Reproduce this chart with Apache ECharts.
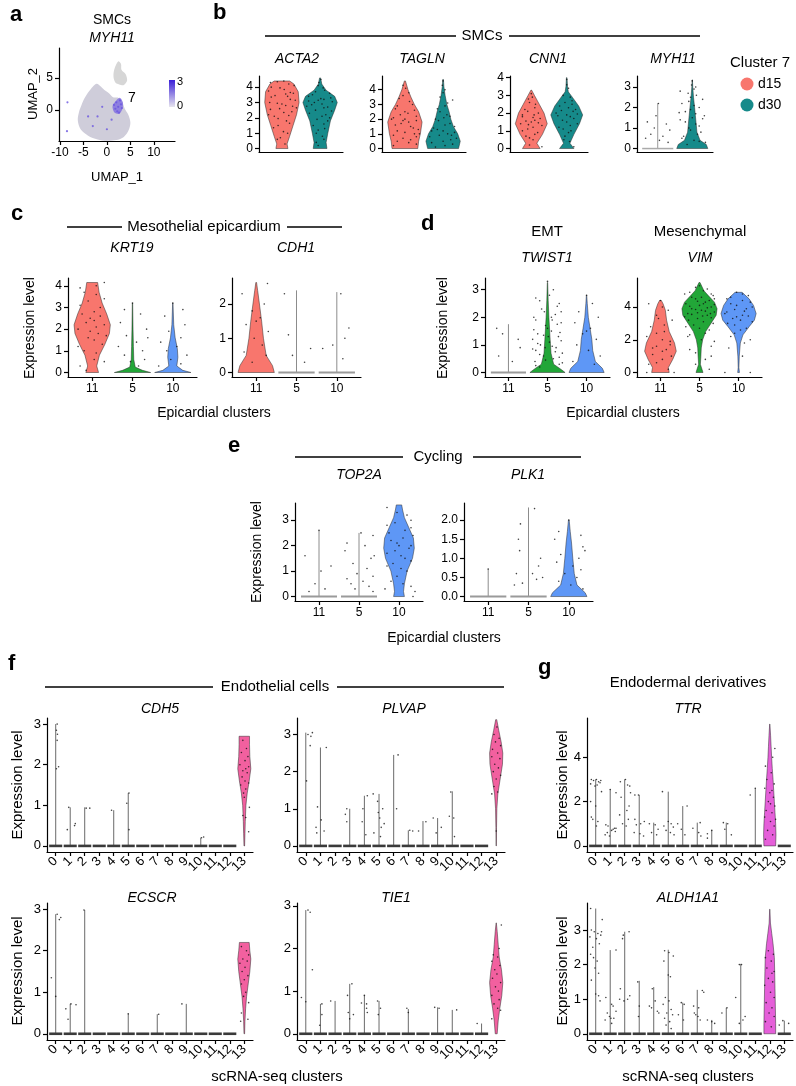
<!DOCTYPE html>
<html><head><meta charset="utf-8">
<script src="https://cdn.jsdelivr.net/npm/echarts@6/dist/echarts.min.js"></script>
<style>html,body{margin:0;padding:0;background:#fff}#c{width:796px;height:1086px}</style>
</head><body><div id="c"></div>
<script>
// ---------------- DATA ----------------
// Panel a: UMAP outlines (UMAP units)
const umapMain = [[-4.8,1.8],[-3.5,3.2],[-2.2,4.1],[-1.2,3.6],[-0.3,3.0],[0.5,2.6],[1.3,2.0],[2.5,1.9],[3.3,1.2],[3.8,0.2],[4.6,-0.8],[5.0,-2.0],[4.6,-3.2],[3.6,-4.2],[2.0,-4.7],[0,-4.8],[-2.0,-4.6],[-4.0,-4.0],[-5.6,-3.0],[-6.2,-1.6],[-5.9,-0.2],[-5.4,0.8]];
const umapTop = [[1.4,5.2],[1.6,6.4],[2.4,7.6],[3.0,7.2],[3.1,6.3],[4.0,5.6],[4.3,4.6],[3.6,3.9],[2.6,4.0],[1.8,4.3]];
const umapHot = [[1.2,0.6],[2.0,1.5],[2.8,1.9],[3.4,1.2],[3.3,0.2],[2.6,-0.6],[1.6,-0.4]];
const umapHighCells = [[1.5,0.8],[2.0,1.2],[2.4,0.5],[2.8,1.5],[3.0,0.9],[2.2,-0.2],[1.8,0.2],[2.6,-0.4],[3.2,0.3],[-2,-1],[-3,-2.5],[0,-3],[1,-1.5],[-4,-1],[-1,0.5],[-8.4,1.2],[-8.5,-3.3]];
const umapXTicks = [-10,-5,0,5,10];
const umapYTicks = [0,5];

// Panel b: SMCs, cluster 7 by day
const smcGroups = ['d15','d30'];
const ACTA2_shape = [
  [[0,0.35],[0.3,0.3],[0.8,0.45],[1.5,0.65],[2.2,0.85],[3,1.0],[3.7,0.95],[4.2,0.7],[4.4,0.45]],
  [[0,0.4],[0.4,0.35],[1,0.45],[1.8,0.6],[2.5,0.85],[3,1.0],[3.4,0.85],[3.8,0.35],[4.2,0.1],[4.6,0.03]]];
const TAGLN_shape = [
  [[0,0.75],[0.5,0.8],[1,0.9],[1.8,1.0],[2.5,0.8],[3,0.55],[3.5,0.35],[4,0.18],[4.6,0.03]],
  [[0,0.9],[0.5,1.0],[1,0.85],[1.5,0.6],[2,0.45],[2.5,0.35],[3,0.22],[3.6,0.12],[4.2,0.05],[4.7,0.02]]];
const CNN1_shape = [
  [[0,0.55],[0.3,0.35],[0.8,0.7],[1.4,1.0],[2,0.8],[2.5,0.5],[3,0.2],[3.3,0.02]],
  [[0,0.45],[0.3,0.2],[0.8,0.45],[1.4,0.8],[1.9,1.0],[2.4,0.75],[2.9,0.35],[3.2,0.1],[3.5,0.05],[4,0.02]]];
const MYH11_shape = [null,
  [[0,1],[0.2,0.9],[0.4,0.5],[0.8,0.3],[1.2,0.25],[1.6,0.2],[2,0.15],[2.5,0.08],[3,0.03],[3.35,0.01]]];
const MYH11_tops = [2.2, 3.35];
const ACTA2_dots = [[0,4.35,-0.12],[0,4.2,0.18],[0,4.0,-0.28],[0,3.85,0.06],[0,3.6,0.3],[0,3.45,-0.18],[0,3.2,0.22],[0,3.0,-0.32],[0,2.8,0.1],[0,2.6,-0.06],[0,2.4,0.26],[0,2.1,-0.2],[0,1.8,0.12],[0,1.5,-0.1],[0,1.1,0.04],[0,0.7,-0.04],[0,0.3,0.08],[0,2.9,0.0],[0,3.4,0.15],[0,2.2,-0.35],
  [0,4.4,0.05],[0,4.3,-0.3],[0,4.1,0.32],[0,3.95,-0.05],[0,3.75,-0.35],[0,3.55,0.1],[0,3.35,-0.28],[0,3.15,0.35],[0,2.95,-0.12],[0,2.75,0.28],[0,2.55,-0.3],[0,2.35,0.05],[0,2.15,0.18],[0,1.95,-0.1],[0,1.65,0.2],[0,1.35,-0.22],[0,1.0,0.15],[0,0.6,-0.12],[0,3.65,0.22],[0,2.65,0.38],
  [1,4.5,0.02],[1,4.1,-0.05],[1,3.8,0.12],[1,3.5,-0.2],[1,3.3,0.28],[1,3.1,-0.3],[1,2.9,0.05],[1,2.7,0.2],[1,2.5,-0.12],[1,2.2,0.15],[1,1.9,-0.08],[1,1.6,0.1],[1,1.2,-0.05],[1,0.8,0.06],[1,0.4,-0.1],[1,3.0,-0.15],[1,3.2,0.1],[1,2.0,0.25],
  [1,4.3,-0.03],[1,3.95,0.08],[1,3.7,-0.12],[1,3.6,0.25],[1,3.4,-0.3],[1,3.25,0.02],[1,3.05,0.32],[1,2.85,-0.22],[1,2.65,0.1],[1,2.45,0.3],[1,2.3,-0.28],[1,2.1,0.05],[1,1.8,0.2],[1,1.5,-0.18],[1,1.3,0.12],[1,1.0,-0.1],[1,0.6,0.1],[1,0.2,-0.05],[1,3.15,-0.05],[1,2.75,-0.35]];
const TAGLN_dots = [[0,4.3,-0.05],[0,3.8,0.1],[0,3.4,-0.15],[0,3.0,0.2],[0,2.7,-0.25],[0,2.4,0.08],[0,2.1,-0.3],[0,1.9,0.3],[0,1.7,-0.1],[0,1.5,0.15],[0,1.2,-0.2],[0,1.0,0.25],[0,0.7,-0.05],[0,0.4,0.1],[0,2.0,0.0],[0,1.3,0.35],[0,0.2,-0.3],
  [0,4.1,0.02],[0,3.6,-0.05],[0,3.2,0.12],[0,2.9,-0.2],[0,2.6,0.25],[0,2.3,-0.12],[0,2.2,0.3],[0,2.0,-0.35],[0,1.8,0.1],[0,1.6,-0.25],[0,1.4,0.22],[0,1.1,0.0],[0,0.9,-0.3],[0,0.8,0.3],[0,0.6,0.15],[0,0.5,-0.2],[0,0.3,0.3],[0,1.9,-0.05],[0,2.5,0.0],[0,1.0,0.38],
  [1,4.6,0.0],[1,4.0,0.05],[1,3.5,-0.08],[1,3.1,0.12],[1,2.7,-0.15],[1,2.3,0.1],[1,2.0,-0.2],[1,1.7,0.18],[1,1.4,-0.25],[1,1.1,0.3],[1,0.9,-0.1],[1,0.6,0.2],[1,0.4,-0.3],[1,0.2,0.05],[1,1.2,0.0],[1,3.3,0.25],
  [1,4.3,-0.02],[1,3.8,0.0],[1,2.9,0.05],[1,2.5,-0.08],[1,2.2,0.18],[1,1.9,-0.12],[1,1.6,0.05],[1,1.5,0.3],[1,1.3,-0.15],[1,1.0,0.12],[1,0.8,-0.35],[1,0.7,0.35],[1,0.5,0.0],[1,0.3,0.25],[1,0.1,-0.2],[1,1.2,-0.3],[1,0.9,0.22],[1,2.1,0.02]];
const CNN1_dots = [[0,3.1,0.0],[0,2.8,-0.08],[0,2.5,0.12],[0,2.2,-0.18],[0,2.0,0.2],[0,1.8,-0.25],[0,1.6,0.1],[0,1.4,-0.3],[0,1.3,0.3],[0,1.1,-0.1],[0,0.9,0.18],[0,0.7,-0.15],[0,0.5,0.05],[0,0.2,-0.05],[0,1.5,0.0],[0,1.9,0.08],
  [0,2.9,0.03],[0,2.6,-0.05],[0,2.3,0.1],[0,2.1,-0.1],[0,1.9,-0.25],[0,1.7,0.25],[0,1.55,-0.15],[0,1.45,0.2],[0,1.2,0.05],[0,1.0,-0.25],[0,0.8,0.1],[0,0.6,-0.05],[0,0.1,0.3],[0,1.35,-0.08],[0,1.75,0.05],
  [1,3.9,0.0],[1,3.4,0.05],[1,3.0,-0.1],[1,2.7,0.15],[1,2.4,-0.2],[1,2.2,0.25],[1,2.0,-0.3],[1,1.8,0.1],[1,1.6,-0.12],[1,1.4,0.3],[1,1.2,-0.22],[1,1.0,0.12],[1,0.7,-0.05],[1,0.4,0.08],[1,1.9,0.0],[1,2.1,0.18],
  [1,3.6,0.0],[1,2.9,0.1],[1,2.6,-0.05],[1,2.3,0.05],[1,2.15,-0.15],[1,1.95,0.3],[1,1.85,-0.25],[1,1.7,0.2],[1,1.5,0.0],[1,1.3,0.1],[1,1.1,-0.1],[1,0.9,0.05],[1,0.5,-0.08],[1,0.1,0.2],[1,2.5,0.15]];
const MYH11_dots = [[0,2.2,0.02],[0,1.3,-0.3],[0,1.2,0.25],[0,1.0,-0.1],[0,0.9,0.35],[0,0.7,-0.2],[0,0.6,0.15],[0,0.5,-0.35],[0,0.4,0.05],[0,0.3,0.3],[0,1.6,-0.05],
  [1,3.3,0.0],[1,3.0,0.1],[1,2.7,-0.12],[1,2.4,0.3],[1,2.2,-0.3],[1,2.0,0.2],[1,1.8,-0.2],[1,1.6,0.35],[1,1.4,-0.35],[1,1.2,0.1],[1,1.0,-0.1],[1,0.8,0.25],[1,0.6,-0.25],[1,0.4,0.05],[1,0.3,0.38],[1,1.5,0.0],[1,2.5,-0.05],
  [1,3.1,-0.02],[1,2.9,0.05],[1,2.6,0.12],[1,2.3,-0.1],[1,2.1,0.05],[1,1.9,-0.05],[1,1.7,0.1],[1,1.3,-0.2],[1,1.1,0.2],[1,0.9,-0.05],[1,0.7,0.15],[1,0.5,-0.3],[1,0.35,0.2],[1,0.2,-0.15],[1,1.45,0.3],[1,2.8,-0.35],[1,1.75,-0.38]];

// Panels c-e: epicardial clusters
const epiClusters = ['11','5','10'];
const KRT19_shape = [
  [[0,0.35],[0.3,0.25],[0.8,0.4],[1.3,0.7],[1.8,0.95],[2.2,1.0],[2.7,0.8],[3.2,0.55],[3.7,0.38],[4.15,0.3]],
  [[0,1],[0.1,0.55],[0.25,0.15],[0.6,0.07],[1.2,0.05],[2,0.03],[3.2,0.01]],
  [[0,1],[0.1,0.55],[0.3,0.22],[0.7,0.28],[1.1,0.25],[1.6,0.13],[2.2,0.05],[3.2,0.01]]];
const KRT19_dots = [[0,4.15,0.3],[0,3.9,-0.3],[0,3.6,0.1],[0,3.3,-0.1],[0,3.0,0.2],[0,2.7,-0.25],[0,2.4,0.05],[0,2.2,0.3],[0,2.0,-0.35],[0,1.8,0.15],[0,1.6,-0.1],[0,1.3,0.25],[0,1.0,-0.2],[0,0.6,0.05],[0,0.3,-0.3],[0,2.5,-0.05],
  [0,4.0,0.1],[0,3.7,-0.2],[0,3.4,0.3],[0,3.1,-0.3],[0,2.8,0.05],[0,2.6,0.2],[0,2.3,-0.15],[0,2.1,0.1],[0,1.9,-0.05],[0,1.7,0.35],[0,1.5,0.05],[0,1.2,-0.35],[0,0.9,0.1],[0,0.5,0.3],[0,0.1,-0.15],
  [1,3.2,0.0],[1,2.7,0.2],[1,2.3,-0.3],[1,2.0,0.35],[1,1.7,-0.15],[1,1.4,0.1],[1,1.2,-0.35],[1,1.0,0.25],[1,0.8,-0.2],[1,0.6,0.3],[1,0.5,-0.05],[1,0.3,0.15],[1,1.6,0.38],[1,2.9,-0.2],
  [2,3.2,0.0],[2,2.6,-0.2],[2,2.2,0.3],[2,1.9,-0.1],[2,1.6,0.2],[2,1.4,-0.3],[2,1.2,0.1],[2,1.0,-0.15],[2,0.8,0.35],[2,0.6,-0.05],[2,0.4,0.2],[2,0.3,-0.35],[2,2.9,0.25]];
const CDH1_shape = [
  [[0,1.0],[0.2,0.9],[0.5,0.55],[1,0.4],[1.5,0.3],[2,0.18],[2.4,0.08],[2.63,0.02]], null, null];
const CDH1_tops = [2.63, 2.4, 2.35];
const CDH1_dots = [[0,2.6,0.28],[0,2.3,-0.35],[0,2.0,0.2],[0,1.8,-0.1],[0,1.6,0.1],[0,1.4,-0.25],[0,1.2,0.3],[0,1.0,-0.05],[0,0.8,0.15],[0,0.6,-0.3],[0,0.5,0.25],[0,0.3,-0.1],[0,1.5,0.0],
  [1,2.3,-0.3],[1,1.1,-0.2],[1,0.7,0.35],[1,0.5,-0.1],[1,0.3,0.2],
  [2,2.3,0.1],[2,1.3,0.3],[2,1.0,0.2],[2,0.8,-0.1],[2,0.7,-0.35],[2,0.4,0.15]];
const TWIST1_shape = [null,
  [[0,1],[0.1,0.8],[0.3,0.35],[0.7,0.2],[1.2,0.15],[2,0.08],[2.6,0.04],[3.26,0.01]],
  [[0,1],[0.15,0.9],[0.4,0.5],[0.8,0.35],[1.2,0.3],[1.6,0.2],[2,0.1],[2.5,0.04],[2.8,0.01]]];
const TWIST1_tops = [1.75, 3.26, 2.8];
const TWIST1_dots = [[0,1.6,-0.3],[0,1.4,-0.15],[0,1.2,0.25],[0,0.9,0.3],[0,0.6,-0.25],[0,0.4,0.1],
  [1,3.3,0.0],[1,3.0,0.15],[1,2.7,-0.3],[1,2.5,0.3],[1,2.3,-0.15],[1,2.1,0.2],[1,2.0,-0.35],[1,1.8,0.35],[1,1.7,-0.05],[1,1.5,0.1],[1,1.4,-0.25],[1,1.3,0.28],[1,1.2,-0.38],[1,1.1,0.05],[1,1.0,-0.18],[1,0.9,0.22],[1,0.8,-0.3],[1,0.7,0.38],[1,0.6,-0.1],[1,0.5,0.15],[1,0.4,-0.32],[1,0.3,0.3],[1,0.2,-0.2],[1,1.6,0.0],[1,2.2,-0.08],[1,1.9,0.12],[1,0.9,-0.06],[1,1.3,0.02],
  [1,2.8,0.05],[1,2.6,-0.2],[1,2.4,0.25],[1,2.2,0.35],[1,2.0,0.1],[1,1.9,-0.3],[1,1.75,0.25],[1,1.55,-0.35],[1,1.45,0.32],[1,1.35,-0.1],[1,1.15,0.35],[1,1.05,-0.25],[1,0.95,0.12],[1,0.85,-0.38],[1,0.75,0.2],[1,0.65,-0.2],[1,0.55,0.3],[1,0.45,-0.05],[1,0.35,0.38],[1,0.25,-0.3],
  [2,2.8,0.0],[2,2.5,0.15],[2,2.2,-0.2],[2,2.0,0.3],[2,1.8,-0.3],[2,1.6,0.1],[2,1.4,-0.1],[2,1.2,0.25],[2,1.0,-0.25],[2,0.8,0.05],[2,0.6,0.35],[2,0.4,-0.35],[2,0.3,0.2],[2,1.5,0.0]];
const VIM_shape = [
  [[0,0.5],[0.3,0.45],[0.8,0.7],[1.3,0.9],[1.8,0.8],[2.5,0.5],[3.2,0.35],[3.8,0.28],[4.2,0.15],[4.4,0.05]],
  [[0,0.2],[0.5,0.05],[1,0.08],[1.5,0.1],[2,0.18],[2.5,0.35],[3,0.65],[3.5,0.95],[3.9,1.0],[4.3,0.85],[4.7,0.5],[5,0.25],[5.5,0.03]],
  [[0,0.05],[0.3,0.02],[1,0.04],[1.8,0.1],[2.3,0.25],[2.8,0.6],[3.2,0.9],[3.6,1.0],[4.1,0.85],[4.5,0.6],[4.9,0.2]]];
const VIM_dots = [[0,4.4,0.0],[0,4.2,-0.3],[0,3.8,0.2],[0,3.5,-0.1],[0,3.2,0.3],[0,2.8,-0.25],[0,2.5,0.1],[0,2.2,-0.35],[0,1.9,0.25],[0,1.6,-0.1],[0,1.4,0.15],[0,1.1,-0.2],[0,0.8,0.05],[0,0.5,-0.3],[0,0.2,0.2],
  [0,4.0,0.05],[0,3.3,-0.05],[0,2.9,0.1],[0,2.4,-0.1],[0,2.0,0.05],[0,1.7,0.25],[0,1.5,-0.2],[0,1.3,0.05],[0,1.0,0.28],[0,0.6,-0.1],[0,0.0,0.35],[0,0.0,-0.35],
  [1,5.3,0.0],[1,5.1,0.2],[1,4.9,-0.25],[1,4.7,0.35],[1,4.5,-0.1],[1,4.3,0.15],[1,4.2,-0.35],[1,4.0,0.3],[1,3.9,-0.2],[1,3.8,0.05],[1,3.7,0.38],[1,3.6,-0.3],[1,3.5,0.2],[1,3.3,-0.05],[1,3.1,0.1],[1,2.9,-0.15],[1,2.6,0.25],[1,2.3,-0.25],[1,2.0,0.05],[1,1.6,0.3],[1,1.2,-0.1],[1,0.8,0.15],[1,4.1,0.0],[1,3.4,-0.38],[1,4.6,0.05],
  [1,5.2,-0.1],[1,5.0,0.1],[1,4.8,0.3],[1,4.8,-0.38],[1,4.6,-0.2],[1,4.4,0.25],[1,4.35,-0.05],[1,4.2,0.1],[1,4.15,0.38],[1,4.05,-0.25],[1,3.95,0.2],[1,3.85,-0.1],[1,3.75,0.15],[1,3.65,-0.05],[1,3.6,0.28],[1,3.55,-0.2],[1,3.45,0.08],[1,3.35,0.3],[1,3.2,-0.28],[1,3.0,0.35],[1,2.8,-0.35],[1,2.7,0.0],[1,2.4,0.15],[1,2.2,-0.3],[1,1.9,0.38],[1,1.4,-0.25],[1,1.0,0.3],[1,0.5,-0.1],[1,0.2,0.25],[1,4.5,0.38],
  [2,4.8,0.1],[2,4.6,-0.2],[2,4.3,0.3],[2,4.1,-0.05],[2,3.9,0.2],[2,3.7,-0.3],[2,3.5,0.1],[2,3.3,-0.15],[2,3.1,0.35],[2,2.9,-0.1],[2,2.6,0.05],[2,2.2,-0.2],[2,1.8,0.15],[2,0.0,-0.35],[2,0.0,0.3],
  [2,4.9,-0.05],[2,4.7,0.25],[2,4.5,-0.3],[2,4.4,0.1],[2,4.2,-0.2],[2,4.0,0.35],[2,3.85,-0.1],[2,3.75,0.15],[2,3.6,-0.35],[2,3.45,0.25],[2,3.4,-0.05],[2,3.2,0.05],[2,3.0,-0.28],[2,2.7,0.2],[2,2.4,-0.1],[2,2.0,0.3],[2,1.5,-0.25],[2,1.0,0.1]];
const TOP2A_shape = [null, null,
  [[0,0.3],[0.2,0.25],[0.5,0.3],[1,0.45],[1.5,0.75],[1.9,0.85],[2.3,0.8],[2.7,0.55],[3.1,0.3],[3.4,0.2],[3.6,0.15]]];
const TOP2A_tops = [2.6, 2.5, 3.6];
const TOP2A_dots = [[0,2.6,0.0],[0,1.6,-0.35],[0,1.2,0.3],[0,1.0,0.05],[0,0.5,-0.1],[0,0.3,0.15],[0,0.2,-0.25],
  [1,2.5,0.05],[1,2.1,-0.3],[1,2.0,0.15],[1,1.8,-0.35],[1,1.5,0.3],[1,1.3,-0.15],[1,1.1,0.2],[1,0.9,-0.05],[1,0.8,0.35],[1,0.7,-0.3],[1,0.6,0.1],[1,0.5,-0.2],[1,0.4,0.25],[1,0.3,-0.1],[1,0.2,0.35],[1,1.6,0.38],[1,2.4,0.35],
  [2,3.5,-0.3],[2,3.2,0.2],[2,2.9,-0.1],[2,2.7,0.3],[2,2.5,-0.25],[2,2.3,0.1],[2,2.1,-0.05],[2,1.9,0.25],[2,1.7,-0.3],[2,1.5,0.15],[2,1.3,-0.15],[2,1.1,0.05],[2,0.8,-0.05],[2,0.5,0.1],[2,0.3,-0.35],[2,0.2,0.4],[2,2.0,0.0],
  [2,3.3,-0.05],[2,3.0,0.3],[2,2.8,-0.3],[2,2.6,0.15],[2,2.4,0.35],[2,2.2,-0.2],[2,2.0,0.3],[2,1.8,-0.1],[2,1.6,0.05],[2,1.4,0.3],[2,1.2,-0.3],[2,1.0,0.2],[2,0.6,-0.2],[2,0.4,0.3],[2,0.0,0.35]];
const PLK1_shape = [null, null,
  [[0,1],[0.1,0.9],[0.3,0.45],[0.6,0.3],[1,0.22],[1.4,0.15],[1.7,0.08],[2,0.02]]];
const PLK1_tops = [0.72, 2.33, 2.0];
const PLK1_dots = [[0,0.72,0.0],
  [1,2.3,0.15],[1,1.9,-0.2],[1,1.5,-0.25],[1,1.2,-0.22],[1,1.0,0.3],[1,0.8,0.25],[1,0.6,-0.3],[1,0.5,0.35],[1,0.45,0.2],[1,0.35,-0.15],[1,0.3,-0.35],[1,0.6,0.1],
  [2,2.0,0.0],[2,1.7,-0.25],[2,1.6,0.3],[2,1.5,-0.35],[2,1.3,0.35],[2,1.1,-0.2],[2,1.0,0.25],[2,0.9,-0.3],[2,0.8,0.1],[2,0.7,0.3],[2,0.6,-0.1],[2,0.5,0.2],[2,0.4,-0.25],[2,0.3,0.05],[2,0.2,0.35],[2,1.2,0.4]];

// Panels f-g: scRNA-seq clusters 0..13
const scClusters = ['0','1','2','3','4','5','6','7','8','9','10','11','12','13'];
const CDH5_tops  = [3.0,0.95,0.95,0,0.88,1.3,0,0,0,0,0.2,0,0,2.7];
const CDH5_v13   = [[0,0.05],[0.3,0.1],[0.6,0.15],[1,0.25],[1.3,0.45],[1.6,0.75],[1.9,1.0],[2.2,0.85],[2.5,0.8],[2.7,0.8]];
const PLVAP_tops = [3.05,2.65,0,1.0,1.35,1.4,2.45,0.42,0.67,0.75,1.47,0,0,3.4];
const PLVAP_v13  = [[0,0.02],[0.5,0.05],[1,0.1],[1.4,0.25],[1.8,0.6],[2.2,0.95],[2.5,1.0],[2.8,0.75],[3.1,0.4],[3.4,0.08]];
const ECSCR_tops = [2.88,0.72,2.98,0,0,0.48,0,0.47,0,0.72,0,0,0,2.2];
const ECSCR_v13  = [[0,0.05],[0.3,0.1],[0.6,0.2],[0.9,0.35],[1.2,0.6],[1.5,0.85],[1.8,1.0],[2.0,0.85],[2.2,0.75]];
const TIE1_tops  = [2.9,0.7,0.77,1.17,0.9,0.77,0,0.58,0,0.62,0.56,0,0.24,2.6];
const TIE1_v13   = [[0,0.15],[0.3,0.3],[0.6,0.55],[0.9,0.85],[1.2,1.0],[1.5,0.8],[1.8,0.45],[2.1,0.3],[2.4,0.15],[2.6,0.02]];
const TTR_tops   = [3.0,2.55,3.0,2.3,1.05,2.45,1.8,1.05,0.7,1.05,0,2.6,5.5,0];
const TTR_v12    = [[0,0.9],[0.5,0.95],[1,0.9],[1.5,0.8],[2,0.7],[2.5,0.6],[3,0.5],[3.5,0.38],[4,0.28],[4.5,0.2],[5,0.12],[5.5,0.02]];
const ALDH1A1_tops = [3.62,2.42,2.95,1.53,1.35,2.43,0.9,1.27,0.4,0.75,2.02,0,3.6,0.38];
const ALDH1A1_v12  = [[0,0.9],[0.3,0.9],[0.8,0.85],[1.3,0.8],[1.8,0.75],[2.2,0.7],[2.6,0.5],[2.9,0.3],[3.2,0.1],[3.6,0.02]];
const CDH5_dots = [[0,3.0,0.1],[0,2.85,0.05],[0,2.75,0.12],[0,2.6,0.1],[0,1.95,0.2],[0,1.9,0.05],[1,0.95,-0.1],[1,0.4,-0.2],[1,0.5,0.3],[1,0.55,0.35],[2,0.93,0.1],[2,0.93,0.35],[4,0.88,-0.15],[5,1.05,-0.1],[5,0.4,0.05],[5,1.3,0.05],[10,0.2,0.05],[10,0.22,0.2],
  [13,2.6,-0.1],[13,2.4,0.15],[13,2.3,-0.2],[13,2.2,0.25],[13,2.1,0.05],[13,2.0,-0.3],[13,1.95,0.3],[13,1.9,0.1],[13,1.85,-0.1],[13,1.8,0.2],[13,1.7,-0.15],[13,1.6,0.05],[13,1.55,0.3],[13,1.5,-0.25],[13,1.4,0.1],[13,1.3,-0.05],[13,1.2,0.0],[13,0.95,0.35],[13,0.75,-0.1],[13,0.7,0.1],[13,0.35,0.3]];
const PLVAP_dots = [[0,3.0,0.15],[0,2.95,0.35],[0,3.05,0.45],[0,2.7,0.3],[0,1.75,0.05],[1,1.05,-0.2],[1,0.5,-0.3],[1,0.7,0.05],[1,0.4,0.25],[1,0.35,-0.25],[1,2.65,0.4],[3,0.85,-0.3],[3,1.0,-0.2],[3,0.65,-0.2],[4,1.35,0.2],[4,1.0,-0.1],[4,0.65,-0.15],[4,0.3,0.1],[5,1.4,-0.4],[5,1.2,-0.1],[5,1.0,0.25],[5,0.9,-0.05],[5,0.75,0.05],[5,0.6,0.35],[5,0.5,0.15],[5,0.35,-0.35],[5,0.25,0.1],[6,2.45,0.3],[6,1.0,0.2],[7,0.42,0.1],[7,0.4,0.3],[8,0.4,-0.3],[8,0.65,0.2],[9,0.75,-0.3],[9,0.35,-0.1],[9,0.5,0.25],[10,1.45,-0.1],[10,0.8,-0.2],[10,0.75,0.1],[10,0.25,0.15],
  [13,3.2,0.05],[13,3.0,-0.15],[13,2.9,0.2],[13,2.8,-0.05],[13,2.7,0.3],[13,2.6,-0.25],[13,2.5,0.1],[13,2.4,-0.3],[13,2.35,0.25],[13,2.2,-0.1],[13,2.1,0.15],[13,2.0,-0.2],[13,1.9,0.3],[13,1.8,0.0],[13,1.6,-0.15],[13,1.45,0.1],[13,1.4,-0.3],[13,0.4,0.0]];
const ECSCR_dots = [[0,2.88,0.1],[0,2.8,0.35],[0,2.75,0.25],[0,1.35,-0.3],[0,0.9,0.0],[1,0.6,-0.3],[1,0.35,-0.15],[1,0.72,0.05],[1,0.7,0.4],[2,2.98,-0.05],[5,0.48,0.0],[7,0.47,0.1],[9,0.72,-0.3],
  [13,2.1,-0.2],[13,2.0,0.15],[13,1.9,0.3],[13,1.8,-0.1],[13,1.75,0.2],[13,1.7,-0.3],[13,1.6,0.05],[13,1.5,-0.15],[13,1.4,0.25],[13,1.3,0.0],[13,1.2,-0.2],[13,1.0,0.1],[13,0.9,-0.05],[13,0.75,0.3],[13,0.5,-0.2],[13,0.35,0.25],[13,0.3,-0.25]];
const TIE1_dots = [[0,2.9,0.15],[0,2.85,0.3],[0,1.5,0.45],[0,0.85,-0.3],[0,0.75,0.0],[1,0.7,0.1],[1,0.45,0.1],[1,0.2,-0.05],[2,0.77,-0.3],[3,1.17,0.15],[3,0.9,-0.15],[3,0.5,-0.1],[3,0.35,0.0],[3,0.45,0.25],[4,0.9,0.0],[4,0.72,-0.2],[4,0.7,0.15],[4,0.6,0.15],[4,0.5,0.2],[5,0.77,-0.1],[5,0.6,0.1],[5,0.45,-0.05],[7,0.6,-0.1],[7,0.5,0.0],[9,0.62,-0.2],[9,0.6,0.1],[10,0.56,0.3],[12,0.24,-0.3],
  [13,2.55,0.35],[13,2.0,0.2],[13,1.85,-0.2],[13,1.8,0.1],[13,1.7,-0.3],[13,1.6,0.25],[13,1.5,-0.1],[13,1.4,0.05],[13,1.3,-0.25],[13,1.2,0.3],[13,1.1,-0.05],[13,1.0,0.15],[13,0.9,-0.3],[13,0.8,0.2],[13,0.7,-0.15],[13,0.6,0.1],[13,0.55,0.3],[13,0.35,-0.3]];
const TTR_dots = [[0,3.0,-0.3],[0,2.95,-0.15],[0,3.0,0.05],[0,2.9,0.2],[0,2.95,0.35],[0,2.8,-0.35],[0,2.75,0.1],[0,2.7,-0.05],[0,2.85,0.3],[0,2.0,-0.35],[0,1.8,0.0],[0,1.3,-0.3],[0,1.2,-0.2],[0,1.1,0.15],[0,0.9,0.05],[0,2.45,0.4],
  [1,2.55,0.0],[1,2.4,0.4],[1,0.95,-0.3],[1,0.9,-0.15],[1,0.8,0.3],[1,0.75,0.2],[1,0.7,0.1],[1,0.65,0.35],[1,0.6,-0.2],[1,0.5,-0.35],[1,0.45,-0.05],[1,0.8,0.4],
  [2,3.0,0.05],[2,2.9,-0.3],[2,2.75,0.2],[2,2.7,0.35],[2,2.2,-0.25],[2,1.8,0.3],[2,1.6,0.15],[2,1.4,-0.35],[2,1.2,0.25],[2,1.0,-0.15],[2,0.9,0.1],[2,2.4,0.4],
  [3,2.3,-0.05],[3,2.3,-0.3],[3,1.2,-0.3],[3,1.0,0.1],[3,0.95,-0.2],[3,0.6,-0.35],[3,0.55,0.05],[3,0.45,0.3],[3,1.1,0.35],
  [4,1.0,-0.3],[4,0.95,0.1],[4,0.75,0.3],[4,0.6,-0.15],[4,0.5,0.2],
  [5,2.45,-0.4],[5,1.1,0.0],[5,1.0,0.2],[5,0.9,-0.3],[5,0.85,0.35],[5,0.7,-0.15],[5,0.6,0.15],[5,0.5,0.4],
  [6,1.8,0.3],[6,1.0,-0.35],[6,0.75,-0.1],[6,0.5,0.15],[7,1.05,0.2],[7,0.8,-0.3],[7,0.6,0.1],[7,0.45,0.25],
  [8,0.7,0.0],[8,0.55,-0.3],[8,0.35,-0.3],[9,1.05,-0.2],[9,1.0,0.1],[9,0.75,-0.1],[9,0.5,0.35],[11,2.6,0.0],[11,2.3,-0.35],
  [12,4.4,0.35],[12,4.0,0.2],[12,3.6,-0.3],[12,3.3,0.1],[12,3.0,-0.2],[12,2.8,0.3],[12,2.6,-0.35],[12,2.4,0.0],[12,2.2,0.25],[12,2.0,-0.1],[12,1.8,0.35],[12,1.6,-0.25],[12,1.5,0.15],[12,1.3,-0.35],[12,1.1,0.05],[12,0.9,0.3],[12,0.7,-0.15],[12,0.5,0.2],[12,0.3,-0.3],[12,1.9,0.05],[12,2.5,0.15],[12,1.2,0.4]];
const ALDH1A1_dots = [[0,3.62,-0.35],[0,3.0,-0.3],[0,2.95,-0.1],[0,2.9,0.15],[0,2.85,0.35],[0,2.8,-0.4],[0,2.75,0.05],[0,2.6,0.25],[0,2.5,-0.2],[0,2.3,-0.35],[0,2.1,0.1],[0,1.9,-0.05],[0,1.75,0.2],[0,1.55,-0.3],[0,1.15,0.0],[0,1.1,0.2],[0,0.95,0.3],[0,3.3,0.45],[0,2.95,0.4],[0,2.2,-0.15],
  [1,2.42,0.4],[1,1.05,-0.3],[1,0.85,0.1],[1,0.8,0.2],[1,0.6,-0.2],[1,0.5,-0.05],[1,0.45,0.05],[1,0.45,0.25],[1,0.4,-0.35],[1,0.3,0.1],[1,0.65,0.4],
  [2,2.95,0.3],[2,2.85,-0.1],[2,2.75,-0.15],[2,1.3,-0.3],[2,1.1,0.35],[2,1.0,0.2],[2,0.95,-0.05],[2,1.0,-0.35],
  [3,1.5,-0.1],[3,0.8,0.0],[3,0.5,-0.05],[4,0.95,0.1],[4,0.8,-0.3],[4,0.75,-0.15],[4,0.65,0.25],[4,0.6,0.35],[4,1.3,-0.1],
  [5,2.4,-0.25],[5,2.35,0.05],[5,2.25,0.35],[5,2.1,-0.3],[5,1.7,0.0],[5,1.65,0.15],[5,1.05,-0.2],[5,0.95,0.05],[5,0.85,-0.35],[5,0.7,0.2],[5,0.6,-0.1],[5,0.55,0.3],[5,0.45,-0.25],[5,0.35,0.1],[5,0.25,-0.15],[5,0.15,0.2],
  [6,0.9,-0.1],[6,0.85,0.1],[6,0.55,-0.3],[6,0.4,0.05],[7,1.25,0.35],[7,1.2,0.45],[7,0.8,-0.25],[7,0.75,0.1],[7,0.6,-0.2],[7,0.55,-0.1],[7,0.5,0.05],[7,0.4,0.2],
  [8,0.4,-0.3],[8,0.35,0.0],[8,0.3,0.2],[9,0.75,0.05],[9,0.6,-0.3],[10,2.0,-0.1],[10,2.0,0.05],[10,1.05,-0.35],[10,0.5,0.3],[10,0.4,0.15],[10,0.3,-0.1],
  [12,2.4,-0.1],[12,2.3,0.25],[12,2.2,-0.3],[12,2.1,0.1],[12,1.9,-0.2],[12,1.8,0.3],[12,1.75,0.15],[12,1.6,-0.1],[12,1.5,0.2],[12,1.4,-0.35],[12,1.2,0.05],[12,1.05,0.3],[12,0.9,-0.25],[12,0.75,0.15],[12,0.6,-0.05],[12,0.5,0.3],[12,0.35,-0.3],[12,0.2,0.1],
  [13,0.38,-0.1],[13,0.3,0.3],[13,0.25,-0.35]];

// ---------------- BUILD ----------------
const FONT = "'Liberation Sans', Arial, Helvetica, sans-serif";
const HALF = 0.45;
const C_D15 = '#F8766D', C_D30 = '#168A8A';
const C_11 = '#F8766D', C_5 = '#22A638', C_10 = '#5E97F6';
const C_F13 = '#F2609F', C_G12 = '#E55FD9';
const grids = [], xAxes = [], yAxes = [], series = [];

function violinRender(p) {
  return function (params, api) {
    const i = api.value(0);
    const prof = p.shapes[i];
    const kids = [];
    if (prof) {
      const right = prof.map(q => api.coord([i + q[1] * HALF, q[0]]));
      const left = prof.slice().reverse().map(q => api.coord([i - q[1] * HALF, q[0]]));
      kids.push({type:'polygon', shape:{points: right.concat(left)},
        style:{fill: p.colors[i], stroke:'#2a2a2a', lineWidth:0.5}});
    } else {
      const top = p.tops ? p.tops[i] : 0;
      if (top > 0) {
        const a = api.coord([i, 0]), b = api.coord([i, top]);
        kids.push({type:'line', shape:{x1:a[0], y1:a[1], x2:b[0], y2:b[1]},
          style:{stroke: p.spike, lineWidth: 1}});
      }
      const l = api.coord([i - HALF, 0]), r = api.coord([i + HALF, 0]);
      kids.push({type:'rect', shape:{x:l[0], y:l[1] - p.dashH / 2, width:r[0] - l[0], height:p.dashH},
        style:{fill: p.dash}});
    }
    return {type:'group', children: kids};
  };
}

function addPlot(p) {
  const gi = grids.length;
  grids.push({left:p.left, top:p.top, width:p.width, height:p.height});
  const n = p.cats.length;
  const xt = p.cats.map((c, i) => i);
  // padded label positions: blank guard labels at both ends so no real label is auto-hidden
  const xl = [-0.55].concat(xt, [n - 0.45]);
  const showX = p.showX !== false;
  xAxes.push({type:'value', gridIndex:gi, min:-0.6, max:n - 0.4, splitLine:{show:false},
    axisLine:{show:true, onZero:false, lineStyle:{color:'#000', width:1.2}},
    axisTick:{show:showX, customValues:xt, length:4, lineStyle:{color:'#000', width:1.2}},
    axisLabel:{show:showX, customValues:xl,
      formatter:v => (Math.abs(v - Math.round(v)) < 1e-6 && v >= 0 && v < n) ? p.cats[Math.round(v)] : '',
      rotate:p.rotate || 0, showMinLabel:false, showMaxLabel:false, hideOverlap:false,
      fontSize:p.fs, color:'#000', fontFamily:FONT, margin:p.rotate ? 7 : 6}});
  yAxes.push({type:'value', gridIndex:gi, min:-0.05 * p.dmax, max:1.05 * p.dmax, splitLine:{show:false},
    axisLine:{show:true, onZero:false, lineStyle:{color:'#000', width:1.2}},
    axisTick:{show:true, customValues:p.yTicks, length:4, lineStyle:{color:'#000', width:1.2}},
    axisLabel:{show:true, customValues:p.yTicks, formatter:v => p.yDec ? v.toFixed(p.yDec) : String(Math.round(v)),
      showMinLabel:true, showMaxLabel:true,
      fontSize:p.fs, color:'#000', fontFamily:FONT, margin:6}});
  series.push({type:'custom', xAxisIndex:gi, yAxisIndex:gi, data:p.cats.map((c, i) => [i, 0]),
    encode:{x:0, y:1}, renderItem:violinRender(p), silent:true, z:2});
  series.push({type:'scatter', xAxisIndex:gi, yAxisIndex:gi, data:p.dots.map(d => [d[0] + d[2], d[1]]),
    symbolSize:1.6, itemStyle:{color:'#111'}, silent:true, z:3});
}

// Panel a UMAP
(function () {
  const gi = grids.length;
  grids.push({left:59, top:48, width:116, height:93});
  xAxes.push({type:'value', gridIndex:gi, min:-10.2, max:14.5, splitLine:{show:false},
    axisLine:{show:true, onZero:false, lineStyle:{color:'#000', width:1.2}},
    axisTick:{customValues:umapXTicks, length:4, lineStyle:{color:'#000', width:1.2}},
    axisLabel:{customValues:umapXTicks, showMinLabel:true, showMaxLabel:true, fontSize:12, color:'#000', fontFamily:FONT, margin:6}});
  yAxes.push({type:'value', gridIndex:gi, min:-4.84, max:9.7, splitLine:{show:false},
    axisLine:{show:true, onZero:false, lineStyle:{color:'#000', width:1.2}},
    axisTick:{customValues:umapYTicks, length:4, lineStyle:{color:'#000', width:1.2}},
    axisLabel:{customValues:umapYTicks, fontSize:12, color:'#000', fontFamily:FONT, margin:6}});
  const shapes = [umapMain, umapTop, umapHot];
  const fills = ['#CFCDDA', '#D6D6D6', 'rgba(120,100,225,0.75)'];
  series.push({type:'custom', xAxisIndex:gi, yAxisIndex:gi, data:[[0,0],[1,0],[2,0]], encode:{x:0,y:1}, silent:true,
    renderItem:(params, api) => {
      const k = api.value(0);
      return {type:'polygon', shape:{points: shapes[k].map(q => api.coord(q)), smooth:0.3},
        style:{fill: fills[k]}};
    }});
  series.push({type:'scatter', xAxisIndex:gi, yAxisIndex:gi, data:umapHighCells, symbolSize:2.2,
    itemStyle:{color:'#6A55E0'}, silent:true, z:3});
})();

// Panel b
const bCols = [C_D15, C_D30];
const bBase = {top:76, height:76, cats:smcGroups, showX:false, colors:bCols, fs:12, spike:'#999', dash:'#aaa', dashH:1.5};
addPlot(Object.assign({}, bBase, {left:259, width:84, dmax:4.5, yTicks:[0,1,2,3,4], shapes:ACTA2_shape, dots:ACTA2_dots}));
addPlot(Object.assign({}, bBase, {left:382, width:84, dmax:4.7, yTicks:[0,1,2,3,4], shapes:TAGLN_shape, dots:TAGLN_dots}));
addPlot(Object.assign({}, bBase, {left:510, width:78, dmax:3.9, yTicks:[0,1,2,3,4], shapes:CNN1_shape, dots:CNN1_dots}));
addPlot(Object.assign({}, bBase, {left:637, width:76, dmax:3.37, yTicks:[0,1,2,3], shapes:MYH11_shape, tops:MYH11_tops, dots:MYH11_dots}));

// Panels c, d, e
const eCols = [C_11, C_5, C_10];
const eBase = {cats:epiClusters, colors:eCols, fs:12, spike:'#8c8c8c', dash:'#9a9a9a', dashH:2};
addPlot(Object.assign({}, eBase, {left:68, top:278, width:129, height:99, dmax:4.15, yTicks:[0,1,2,3,4], shapes:KRT19_shape, dots:KRT19_dots}));
addPlot(Object.assign({}, eBase, {left:232, top:278, width:129, height:99, dmax:2.63, yTicks:[0,1,2], shapes:CDH1_shape, tops:CDH1_tops, dots:CDH1_dots}));
addPlot(Object.assign({}, eBase, {left:485, top:278, width:125, height:99, dmax:3.26, yTicks:[0,1,2,3], shapes:TWIST1_shape, tops:TWIST1_tops, dots:TWIST1_dots}));
addPlot(Object.assign({}, eBase, {left:637, top:278, width:125, height:99, dmax:5.5, yTicks:[0,2,4], shapes:VIM_shape, dots:VIM_dots}));
addPlot(Object.assign({}, eBase, {left:295, top:503, width:128, height:98, dmax:3.5, yTicks:[0,1,2,3], shapes:TOP2A_shape, tops:TOP2A_tops, dots:TOP2A_dots}));
addPlot(Object.assign({}, eBase, {left:464, top:503, width:129, height:98, dmax:2.33, yTicks:[0,0.5,1,1.5,2], yDec:1, shapes:PLK1_shape, tops:PLK1_tops, dots:PLK1_dots}));

// Panels f, g
function scShapes(tops, idx, v) { return tops.map((t, i) => i === idx ? v : null); }
const fCols = scClusters.map((c, i) => i === 13 ? C_F13 : '#444');
const gCols = scClusters.map((c, i) => i === 12 ? C_G12 : '#444');
const sBase = {cats:scClusters, rotate:45, fs:13, spike:'#6a6a6a', dash:'#3a3a3a', dashH:2.6};
addPlot(Object.assign({}, sBase, {left:47, top:718, width:206, height:134, dmax:3.0, yTicks:[0,1,2,3], colors:fCols, tops:CDH5_tops, shapes:scShapes(CDH5_tops,13,CDH5_v13), dots:CDH5_dots}));
addPlot(Object.assign({}, sBase, {left:297, top:718, width:208, height:134, dmax:3.28, yTicks:[0,1,2,3], colors:fCols, tops:PLVAP_tops, shapes:scShapes(PLVAP_tops,13,PLVAP_v13), dots:PLVAP_dots}));
addPlot(Object.assign({}, sBase, {left:47, top:903, width:206, height:137, dmax:3.0, yTicks:[0,1,2,3], colors:fCols, tops:ECSCR_tops, shapes:scShapes(ECSCR_tops,13,ECSCR_v13), dots:ECSCR_dots}));
addPlot(Object.assign({}, sBase, {left:297, top:903, width:208, height:137, dmax:2.92, yTicks:[0,1,2,3], colors:fCols, tops:TIE1_tops, shapes:scShapes(TIE1_tops,13,TIE1_v13), dots:TIE1_dots}));
addPlot(Object.assign({}, sBase, {left:587, top:718, width:206, height:134, dmax:5.5, yTicks:[0,2,4], colors:gCols, tops:TTR_tops, shapes:scShapes(TTR_tops,12,TTR_v12), dots:TTR_dots}));
addPlot(Object.assign({}, sBase, {left:587, top:903, width:206, height:137, dmax:3.6, yTicks:[0,1,2,3], colors:gCols, tops:ALDH1A1_tops, shapes:scShapes(ALDH1A1_tops,12,ALDH1A1_v12), dots:ALDH1A1_dots}));

// ---------------- TEXT / DECORATION ----------------
const G = [];
function T(text, x, y, size, opt) {
  opt = opt || {};
  const font = (opt.bold ? 'bold ' : '') + (opt.italic ? 'italic ' : '') + size + 'px ' + FONT;
  G.push({type:'text', x:x, y:y, rotation:opt.rot || 0, z:10,
    style:{text:text, font:font, fill:'#000', textAlign:opt.align || 'center', textVerticalAlign:'middle',
      align:opt.align || 'center', verticalAlign:'middle'}});
}
function L(x1, y1, x2, y2) {
  G.push({type:'line', z:10, shape:{x1:x1, y1:y1, x2:x2, y2:y2}, style:{stroke:'#000', lineWidth:1.3}});
}
const R90 = Math.PI / 2;
// panel letters
T('a', 10, 15, 22, {bold:true, align:'left'});
T('b', 213, 13, 22, {bold:true, align:'left'});
T('c', 11, 214, 22, {bold:true, align:'left'});
T('d', 421, 224, 22, {bold:true, align:'left'});
T('e', 228, 446, 22, {bold:true, align:'left'});
T('f', 8, 664, 22, {bold:true, align:'left'});
T('g', 538, 668, 22, {bold:true, align:'left'});
// a
T('SMCs', 112, 20, 14); T('MYH11', 112, 38, 14, {italic:true});
T('UMAP_2', 33, 94, 13, {rot:R90}); T('UMAP_1', 117, 177, 13);
T('7', 132, 98, 14);
G.push({type:'rect', z:10, shape:{x:169, y:80, width:6, height:27},
  style:{fill:new echarts.graphic.LinearGradient(0,0,0,1,[{offset:0,color:'#3A1FD8'},{offset:1,color:'#E6E4EE'}])}});
T('3', 177, 82, 11, {align:'left'}); T('0', 177, 106, 11, {align:'left'});
// b
L(265, 36, 456, 36); T('SMCs', 482, 36, 15); L(509, 36, 700, 36);
T('ACTA2', 297, 59, 14, {italic:true}); T('TAGLN', 422, 59, 14, {italic:true});
T('CNN1', 548, 59, 14, {italic:true}); T('MYH11', 673, 59, 14, {italic:true});
T('Cluster 7', 730, 63, 15, {align:'left'});
G.push({type:'circle', z:10, shape:{cx:747, cy:84, r:6.5}, style:{fill:C_D15}});
G.push({type:'circle', z:10, shape:{cx:747, cy:105, r:6.5}, style:{fill:C_D30}});
T('d15', 758, 84, 14, {align:'left'}); T('d30', 758, 105, 14, {align:'left'});
// c
L(67, 227, 122, 227); T('Mesothelial epicardium', 204, 227, 15); L(287, 227, 342, 227);
T('KRT19', 132, 248, 14, {italic:true}); T('CDH1', 296, 248, 14, {italic:true});
T('Expression level', 30, 328, 14, {rot:R90});
T('Epicardial clusters', 214, 413, 14);
// d
T('EMT', 547, 232, 15); T('Mesenchymal', 700, 232, 15);
T('TWIST1', 547, 258, 14, {italic:true}); T('VIM', 700, 258, 14, {italic:true});
T('Expression level', 443, 328, 14, {rot:R90});
T('Epicardial clusters', 623, 413, 14);
// e
L(295, 457, 403, 457); T('Cycling', 438, 457, 15); L(473, 457, 581, 457);
T('TOP2A', 359, 475, 14, {italic:true}); T('PLK1', 528, 475, 14, {italic:true});
T('Expression level', 257, 552, 14, {rot:R90});
T('Epicardial clusters', 444, 638, 14);
// f
L(45, 687, 213, 687); T('Endothelial cells', 275, 687, 15); L(337, 687, 504, 687);
T('CDH5', 160, 709, 14, {italic:true}); T('PLVAP', 404, 709, 14, {italic:true});
T('ECSCR', 152, 898, 14, {italic:true}); T('TIE1', 396, 898, 14, {italic:true});
T('Expression level', 18, 785, 15, {rot:R90}); T('Expression level', 18, 971, 15, {rot:R90});
T('scRNA-seq clusters', 277, 1077, 15);
// g
T('Endodermal derivatives', 688, 683, 15);
T('TTR', 688, 709, 14, {italic:true}); T('ALDH1A1', 688, 898, 14, {italic:true});
T('Expression level', 563, 785, 15, {rot:R90}); T('Expression level', 563, 971, 15, {rot:R90});
T('scRNA-seq clusters', 688, 1077, 15);

const chart = echarts.init(document.getElementById('c'), null, {renderer:'canvas'});
chart.setOption({animation:false, backgroundColor:'#fff', grid:grids, xAxis:xAxes, yAxis:yAxes, series:series, graphic:{elements:G}});
</script></body></html>
